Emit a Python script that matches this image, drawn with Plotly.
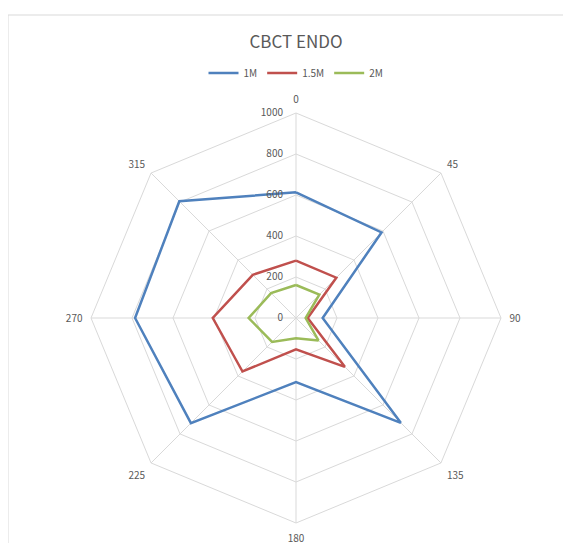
import plotly.graph_objects as go

categories = ["0", "45", "90", "135", "180", "225", "270", "315"]
series_1m = [613, 590, 130, 723, 313, 725, 785, 805]
series_15m = [280, 278, 57, 337, 153, 369, 406, 298]
series_2m = [161, 161, 47, 155, 99, 165, 231, 172]
radial_ticks = [0, 200, 400, 600, 800, 1000]

series = [
    ("1M", series_1m, "#4F81BD"),
    ("1.5M", series_15m, "#C0504D"),
    ("2M", series_2m, "#9BBB59"),
]

OFF = 8  # page body margin
W, H = 571 - OFF, 543 - OFF
cx, cy, R = 296 - OFF, 318 - OFF, 205

fig = go.Figure()
for name, vals, color in series:
    fig.add_trace(go.Scatterpolar(
        r=vals + vals[:1],
        theta=categories + categories[:1],
        mode="lines",
        name=name,
        line=dict(color=color, width=2.5),
    ))

font_family = "Noto Sans CJK KR, Open Sans, sans-serif"

fig.update_layout(
    width=W, height=H,
    margin=dict(l=0, r=0, t=0, b=0),
    paper_bgcolor="white",
    plot_bgcolor="white",
    font=dict(family=font_family, color="#595959", size=10),
    title=dict(text="CBCT ENDO", x=cx / W, xanchor="center",
               y=1 - (42 - OFF) / H, yanchor="middle",
               font=dict(size=17, color="#595959", family=font_family)),
    legend=dict(orientation="h", x=cx / W, xanchor="center",
                y=1 - (73 - OFF) / H, yanchor="middle",
                font=dict(size=10, color="#595959"),
                itemwidth=30, tracegroupgap=0),
    polar=dict(
        domain=dict(x=[(cx - R) / W, (cx + R) / W],
                    y=[(H - cy - R) / H, (H - cy + R) / H]),
        bgcolor="white",
        gridshape="linear",
        angularaxis=dict(
            rotation=90, direction="clockwise",
            categoryorder="array", categoryarray=categories,
            showline=True, linecolor="#d9d9d9", linewidth=1,
            gridcolor="#d9d9d9", ticks="outside", ticklen=6,
            tickcolor="rgba(0,0,0,0)",
            tickfont=dict(size=10, color="#595959"),
        ),
        radialaxis=dict(
            range=[0, 1000], tickvals=radial_ticks,
            ticktext=[str(v) for v in radial_ticks],
            angle=90, tickangle=90, side="counterclockwise",
            showline=False, ticks="outside", ticklen=9,
            tickcolor="rgba(0,0,0,0)",
            gridcolor="#d9d9d9",
            tickfont=dict(size=10, color="#595959"),
        ),
    ),
    shapes=[dict(type="rect", xref="paper", yref="paper",
                 x0=0, x1=1.05, y0=-0.05, y1=1 - (15 - OFF) / H,
                 line=dict(color="#d9d9d9", width=1),
                 fillcolor="rgba(0,0,0,0)", layer="below")],
    showlegend=True,
)

fig.write_html("out.html")
